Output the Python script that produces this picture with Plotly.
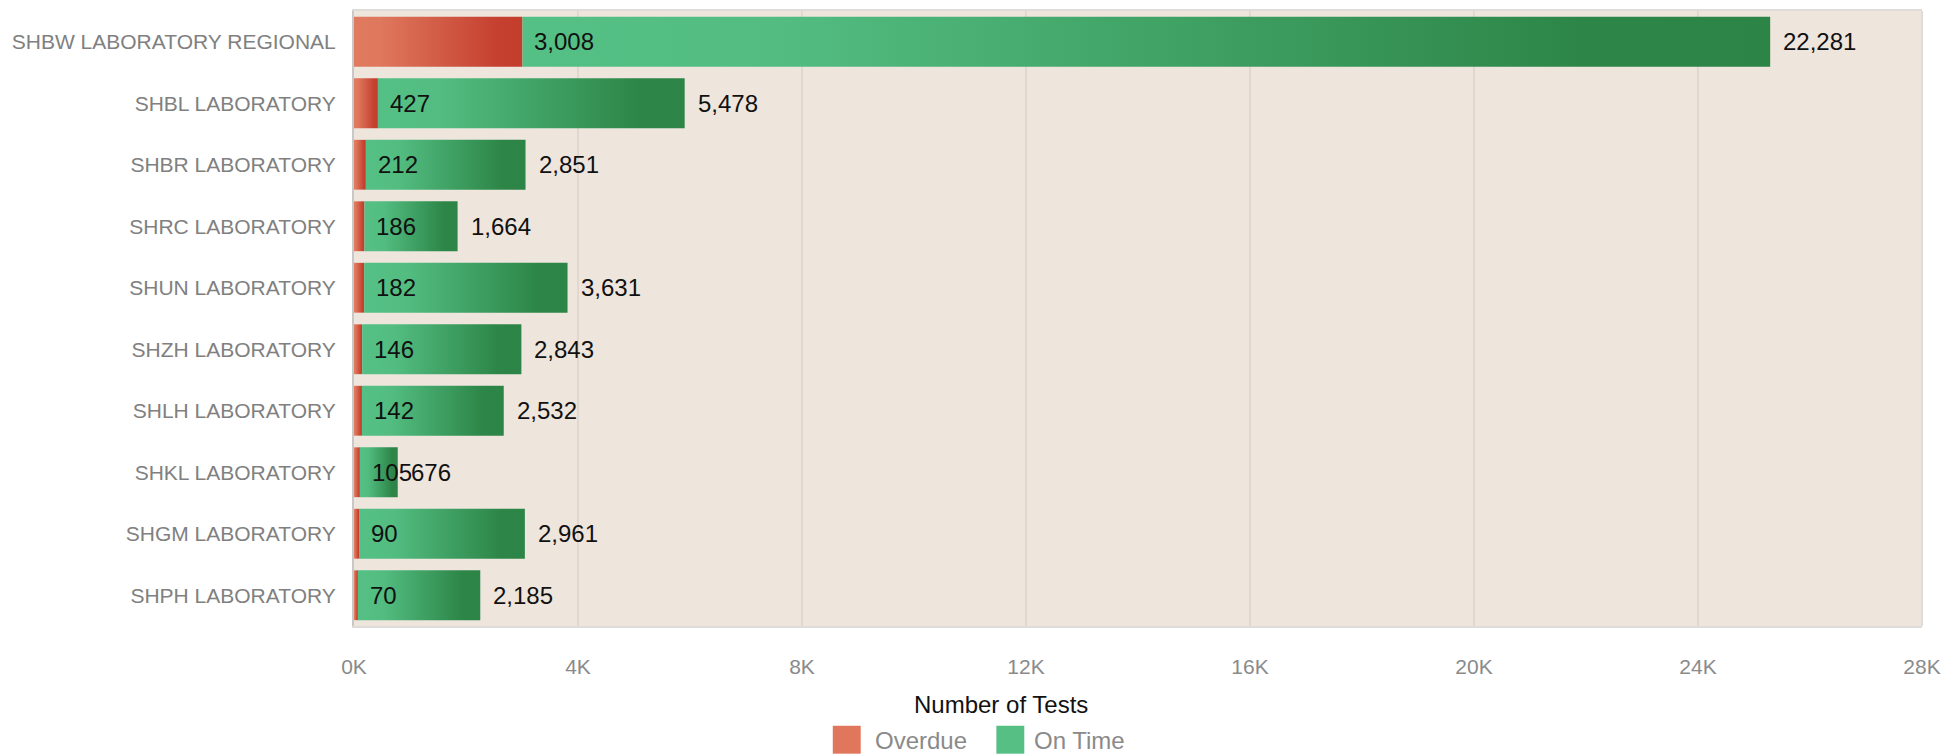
import plotly.graph_objects as go

labs = ["SHBW LABORATORY REGIONAL", "SHBL LABORATORY", "SHBR LABORATORY", "SHRC LABORATORY",
        "SHUN LABORATORY", "SHZH LABORATORY", "SHLH LABORATORY", "SHKL LABORATORY",
        "SHGM LABORATORY", "SHPH LABORATORY"]
overdue = [3008, 427, 212, 186, 182, 146, 142, 105, 90, 70]
on_time = [22281, 5478, 2851, 1664, 3631, 2843, 2532, 676, 2961, 2185]
x_tickvals = [0, 4000, 8000, 12000, 16000, 20000, 24000, 28000]
x_ticktext = ["0K", "4K", "8K", "12K", "16K", "20K", "24K", "28K"]
series_names = ["Overdue", "On Time"]

RED_SCALE = [[0, "#e07b60"], [0.15, "#df785d"], [0.85, "#c5402f"], [1, "#c33d2d"]]
GREEN_SCALE = [[0, "#55c085"], [0.2, "#53bd81"], [0.85, "#2d8648"], [1, "#2c8547"]]
BAR_W = 0.81
FONT = "Liberation Sans, Arial, sans-serif"

fig = go.Figure()

def bar_trace(x0, x1, yc, scale, name):
    h = BAR_W / 2
    return go.Scatter(
        x=[x0, x1, x1, x0, x0],
        y=[yc - h, yc - h, yc + h, yc + h, yc - h],
        mode="lines", line=dict(width=0), fill="toself",
        fillgradient=dict(type="horizontal", colorscale=scale),
        name=name, showlegend=False, hoveron="fills",
    )

annotations = []
for i, (lab, od, ot) in enumerate(zip(labs, overdue, on_time)):
    fig.add_trace(bar_trace(0, od, i, RED_SCALE, series_names[0]))
    fig.add_trace(bar_trace(od, od + ot, i, GREEN_SCALE, series_names[1]))
    annotations.append(dict(x=od, y=i, xref="x", yref="y", text=f"{od:,}", showarrow=False,
                            xanchor="left", xshift=10, yshift=0,
                            font=dict(family=FONT, size=24, color="#111111")))
    annotations.append(dict(x=od + ot, y=i, xref="x", yref="y", text=f"{ot:,}", showarrow=False,
                            xanchor="left", xshift=11, yshift=0,
                            font=dict(family=FONT, size=24, color="#111111")))

# manual legend (paper coords)
L, R, T, B = 354, 1926, 9.5, 626
def px(xp):
    return (xp - L) / (R - L)
def py(yp):
    return (B - yp) / (B - T)

shapes = [
    dict(type="rect", xref="paper", yref="paper", x0=px(834), x1=px(862), y0=py(754), y1=py(726),
         fillcolor="#e0765b", line=dict(width=0)),
    dict(type="rect", xref="paper", yref="paper", x0=px(998), x1=px(1026), y0=py(754), y1=py(726),
         fillcolor="#55bf84", line=dict(width=0)),
]
annotations += [
    dict(x=px(1003), y=py(705), xref="paper", yref="paper", text="Number of Tests", showarrow=False,
         xanchor="center", yanchor="middle", font=dict(family=FONT, size=24, color="#111111")),
    dict(x=px(874), y=py(741), xref="paper", yref="paper", text=series_names[0], showarrow=False,
         xanchor="left", yanchor="middle", font=dict(family=FONT, size=24, color="#8a8a8a")),
    dict(x=px(1034), y=py(741), xref="paper", yref="paper", text=series_names[1], showarrow=False,
         xanchor="left", yanchor="middle", font=dict(family=FONT, size=24, color="#8a8a8a")),
]

fig.update_layout(
    width=1950, height=755,
    margin=dict(l=354, r=24, t=9, b=129, pad=0),
    paper_bgcolor="white", plot_bgcolor="#eee5dd",
    showlegend=False,
    annotations=annotations, shapes=shapes,
    font=dict(family=FONT),
    xaxis=dict(range=[0, 28000], tickvals=x_tickvals, ticktext=x_ticktext,
               showgrid=True, gridcolor="#e0d8d0", gridwidth=1.5, zeroline=False,
               showline=True, linecolor="#dedbd8", linewidth=2, mirror=True,
               tickfont=dict(family=FONT, size=21, color="#8a8a8a"), ticklabelstandoff=21,
               fixedrange=True),
    yaxis=dict(range=[len(labs) - 0.5, -0.5], tickvals=list(range(len(labs))), ticktext=labs,
               showgrid=False, zeroline=False,
               showline=True, linecolor="#c8c8c8", linewidth=2, mirror=False,
               tickfont=dict(family=FONT, size=21, color="#808080"), ticklabelstandoff=12,
               fixedrange=True),
)
fig.add_shape(type="line", xref="paper", yref="paper", x0=1, x1=1, y0=0, y1=1,
              line=dict(color="#dedbd8", width=2))

fig.write_html("out.html", config={"displayModeBar": False},
               post_script="document.body.style.margin='0';document.body.style.overflow='hidden';")
